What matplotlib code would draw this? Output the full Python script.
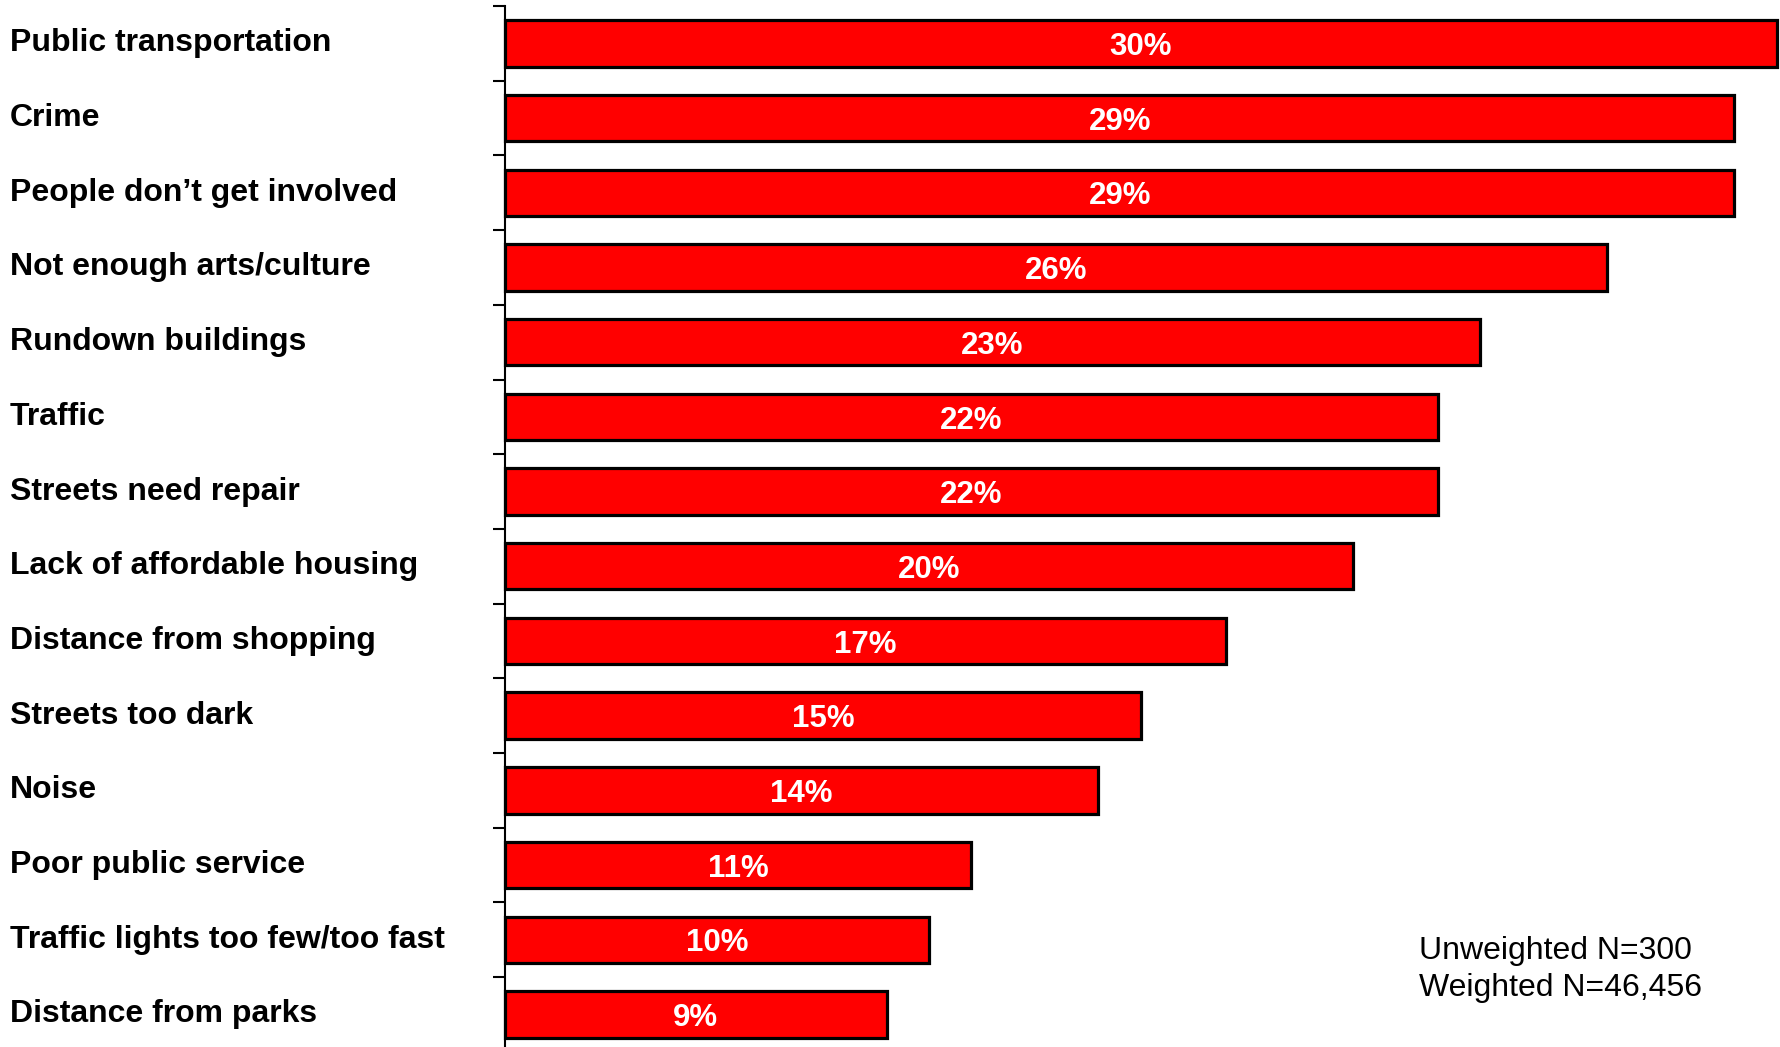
import matplotlib
matplotlib.use("Agg")
from matplotlib import pyplot
import matplotlib.transforms as mtransforms
import numpy as np

CATEGORIES = [
    "Public transportation",
    "Crime",
    "People don\u2019t get involved",
    "Not enough arts/culture",
    "Rundown buildings",
    "Traffic",
    "Streets need repair",
    "Lack of affordable housing",
    "Distance from shopping",
    "Streets too dark",
    "Noise",
    "Poor public service",
    "Traffic lights too few/too fast",
    "Distance from parks",
]
VALUES = [30, 29, 29, 26, 23, 22, 22, 20, 17, 15, 14, 11, 10, 9]
NOTE = "Unweighted N=300\nWeighted N=46,456"

W, H = 1780, 1047
fig = pyplot.figure(figsize=(W / 100, H / 100), dpi=100)
n = len(CATEGORIES)
# axes spans from the top tick down past the bottom edge (chart is cropped)
top_px, bottom_px = 6, 6 + 74.7 * n
ax = fig.add_axes([505 / W, 1 - bottom_px / H, (1778 - 505) / W, (bottom_px - top_px) / H])

y = np.arange(n)
ax.barh(y, VALUES, height=0.62, color="#ff0000", edgecolor="black",
        linewidth=2.3, clip_on=False)
ax.set_xlim(0, 30.03)
ax.set_ylim(n - 0.5, -0.5)

for yi, v in zip(y, VALUES):
    ax.text(v / 2, yi + 0.05, f"{v}%", color="white", fontweight="bold",
            fontsize=22.5, ha="center", va="center", family="Liberation Sans")

trans = mtransforms.blended_transform_factory(fig.transFigure, ax.transData)
for yi, lab in zip(y, CATEGORIES):
    ax.text(10 / W, yi + 0.0, lab, transform=trans, ha="left", va="center",
            fontsize=23, fontweight="bold", family="Liberation Sans")

ax.set_yticks(np.arange(n + 1) - 0.5)
ax.set_yticklabels([])
ax.tick_params(axis="y", length=9, width=1.5, direction="out")
ax.set_xticks([])
for s in ["top", "right", "bottom"]:
    ax.spines[s].set_visible(False)
ax.spines["left"].set_linewidth(1.5)

fig.text(1419 / W, 1 - 936 / H, NOTE, ha="left", va="top", fontsize=23,
         family="Liberation Sans", linespacing=1.3)

fig.savefig("out.png", dpi=100)
